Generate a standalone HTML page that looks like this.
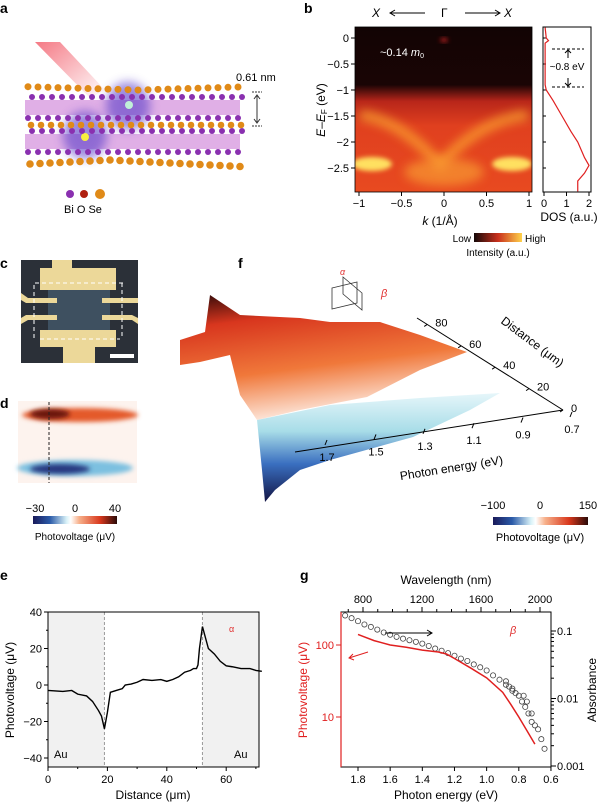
<!DOCTYPE html>
<html><head><meta charset="utf-8"><style>
body{margin:0;background:#fff;width:600px;height:805px;overflow:hidden;font-family:"Liberation Sans",sans-serif}
svg{position:absolute;left:0;top:0}
text{font-family:"Liberation Sans",sans-serif}
</style></head><body>
<svg id="s" width="600" height="805" viewBox="0 0 600 805">
<defs>
<linearGradient id="arpes" x1="0" y1="0" x2="0" y2="1">
<stop offset="0" stop-color="#120404"/><stop offset="0.35" stop-color="#1a0505"/><stop offset="0.45" stop-color="#b8261a"/><stop offset="0.6" stop-color="#e0401f"/><stop offset="1" stop-color="#e84a20"/></linearGradient>
<linearGradient id="cbB" x1="0" x2="1"><stop offset="0" stop-color="#140808"/><stop offset="0.5" stop-color="#c9301c"/><stop offset="1" stop-color="#ffd24a"/></linearGradient>
<linearGradient id="cbD" x1="0" x2="1"><stop offset="0" stop-color="#1a1a5a"/><stop offset="0.2" stop-color="#2a5aa8"/><stop offset="0.4" stop-color="#d9f2f8"/><stop offset="0.45" stop-color="#fff"/><stop offset="0.55" stop-color="#f7b08a"/><stop offset="0.8" stop-color="#d8381d"/><stop offset="1" stop-color="#2a0a08"/></linearGradient>
<linearGradient id="redS" x1="0" y1="0" x2="0.3" y2="1"><stop offset="0" stop-color="#2a0808"/><stop offset="0.25" stop-color="#d8361e"/><stop offset="0.65" stop-color="#f0783a"/><stop offset="1" stop-color="#fde6da"/></linearGradient>
<linearGradient id="blueS" x1="0" y1="0" x2="0" y2="1"><stop offset="0" stop-color="#e6f6fa"/><stop offset="0.35" stop-color="#a8dde8"/><stop offset="0.65" stop-color="#3a6fc0"/><stop offset="1" stop-color="#121444"/></linearGradient>
<filter id="bl" x="-50%" y="-50%" width="200%" height="200%"><feGaussianBlur stdDeviation="5"/></filter>
<filter id="bl2" x="-50%" y="-50%" width="200%" height="200%"><feGaussianBlur stdDeviation="2.5"/></filter>
<clipPath id="cb"><rect x="355" y="27" width="177" height="165"/></clipPath>
<linearGradient id="beam" x1="0" y1="0" x2="1" y2="1"><stop offset="0" stop-color="#f04050" stop-opacity="0.7"/><stop offset="1" stop-color="#f04050" stop-opacity="0"/></linearGradient>
</defs>

<!-- panel letters -->
<g font-weight="bold" font-size="14">
<text x="0" y="13">a</text>
<text x="304" y="13">b</text>
<text x="0" y="268">c</text>
<text x="0" y="408">d</text>
<text x="238" y="268">f</text>
<text x="0" y="580">e</text>
<text x="300" y="580">g</text>
</g>

<!-- panel a -->
<g id="pa">
<polygon points="35,42 60,42 105,90 90,98" fill="url(#beam)"/>
<rect x="25" y="100" width="215" height="15" fill="#d89be0" opacity="0.8"/>
<rect x="25" y="134" width="215" height="15" fill="#d89be0" opacity="0.8"/>
<ellipse cx="85" cy="135" rx="22" ry="24" fill="#5a3cc8" opacity="0.6" filter="url(#bl)"/>
<ellipse cx="128" cy="106" rx="22" ry="24" fill="#5a3cc8" opacity="0.6" filter="url(#bl)"/>
<circle cx="85" cy="137" r="4" fill="#f8f040"/>
<circle cx="129" cy="105" r="4" fill="#c0f0d8"/>
<text x="236" y="81" font-size="11">0.61 nm</text>
<line x1="252" y1="92" x2="262" y2="92" stroke="#333" stroke-dasharray="2,1"/>
<line x1="252" y1="126" x2="262" y2="126" stroke="#333" stroke-dasharray="2,1"/>
<line x1="257" y1="96" x2="257" y2="122" stroke="#333"/>
<path d="M254,99 L257,95 L260,99 M254,119 L257,123 L260,119" fill="none" stroke="#333"/>
<circle cx="70" cy="194" r="4" fill="#8a30b0"/>
<circle cx="84" cy="194" r="4" fill="#b02010"/>
<circle cx="100" cy="194" r="5" fill="#e08a18"/>
<text x="64" y="213" font-size="11">Bi  O  Se</text>
</g>

<!-- panel b -->
<g>
<text x="372" y="17" font-size="12" font-style="italic">X</text>
<text x="441" y="17" font-size="12">Γ</text>
<text x="504" y="17" font-size="12" font-style="italic">X</text>
<path d="M390,13 H425 M395,10 L390,13 L395,16 M465,13 H500 M495,10 L500,13 L495,16" stroke="#000" fill="none"/>
<g clip-path="url(#cb)">
<rect x="355" y="27" width="177" height="165" fill="url(#arpes)"/>
<path d="M360,115 Q400,120 440,165 Q480,120 528,115" stroke="#ffb030" stroke-width="10" fill="none" opacity="0.7" filter="url(#bl)"/>
<ellipse cx="372" cy="164" rx="20" ry="7" fill="#ffe060" filter="url(#bl2)"/>
<ellipse cx="512" cy="164" rx="20" ry="7" fill="#ffe060" filter="url(#bl2)"/>
<ellipse cx="444" cy="172" rx="40" ry="14" fill="#f89a30" opacity="0.7" filter="url(#bl)"/>
<ellipse cx="444" cy="40" rx="4" ry="2" fill="#c02020" filter="url(#bl2)"/>
</g>
<rect x="355" y="27" width="177" height="165" fill="none" stroke="#000" stroke-width="0.8"/>
<text x="380" y="56" font-size="11" fill="#fff">~0.14 <tspan font-style="italic">m</tspan><tspan font-size="7" dy="2">0</tspan></text>
<g id="bAx"></g>
<rect x="543" y="27" width="48" height="165" fill="none" stroke="#000"/>
<g id="bDos"></g>
<path d="M552,49 H584 M552,87 H584" stroke="#000" stroke-dasharray="3,2"/>
<path d="M568,58 V50 M565,53 L568,50 L571,53 M568,78 V86 M565,83 L568,86 L571,83" stroke="#000" fill="none"/>
<text x="567" y="70" font-size="10" text-anchor="middle">~0.8 eV</text>
<text x="569" y="221" font-size="12" text-anchor="middle">DOS (a.u.)</text>
<text x="440" y="225" font-size="12" text-anchor="middle"><tspan font-style="italic">k</tspan> (1/Å)</text>
<text transform="translate(325,110) rotate(-90)" font-size="12" text-anchor="middle"><tspan font-style="italic">E</tspan>–<tspan font-style="italic">E</tspan><tspan font-size="8" dy="2">F</tspan><tspan dy="-2"> (eV)</tspan></text>
<text x="471" y="242" font-size="10" text-anchor="end">Low</text>
<rect x="474" y="233" width="48" height="9" fill="url(#cbB)"/>
<text x="525" y="242" font-size="10">High</text>
<text x="498" y="256" font-size="10" text-anchor="middle">Intensity (a.u.)</text>
</g>

<!-- panel c -->
<g>
<rect x="21" y="260" width="117" height="103" fill="#2b3038"/>
<rect x="48" y="285" width="62" height="55" fill="#3e5060"/>
<path d="M52,260 H72 V268 H116 V290 H40 V268 H52 Z" fill="#ecd899"/>
<path d="M40,330 H116 V347 H95 V363 H63 V347 H40 Z" fill="#ecd899"/>
<path d="M21,293 L28,298 H57 V303 H26 L21,300Z M21,318 L26,315 H57 V320 H28 L21,324Z M138,298 H102 V303 H138Z M138,318 L132,315 H102 V320 H132 L138,324Z" fill="#ecd899"/>
<rect x="110" y="354" width="24" height="4" fill="#fff"/>
<path d="M35,283 H125 M40,339 H120 M34,285 V340 M122,283 V338" stroke="#fff" stroke-dasharray="4,3" fill="none"/>
</g>

<!-- panel d -->
<g>
<rect x="18" y="401" width="119" height="82" fill="#fdf3ee"/>
<ellipse cx="80" cy="415" rx="58" ry="7" fill="#e45a2c" filter="url(#bl2)"/>
<ellipse cx="50" cy="414" rx="20" ry="5" fill="#6a1408" filter="url(#bl2)"/>
<ellipse cx="75" cy="468" rx="58" ry="8" fill="#7cc0e0" filter="url(#bl2)"/>
<ellipse cx="60" cy="469" rx="30" ry="5" fill="#283880" filter="url(#bl2)"/>
<line x1="49" y1="402" x2="49" y2="483" stroke="#222" stroke-dasharray="3,2"/>
<g font-size="11" text-anchor="middle"><text x="35" y="512">−30</text><text x="75" y="512">0</text><text x="115" y="512">40</text></g>
<rect x="33" y="516" width="84" height="8" fill="url(#cbD)"/>
<text x="75" y="540" font-size="10" text-anchor="middle">Photovoltage (μV)</text>
</g>

<!-- panel f -->
<g>
<polygon points="180,340 205,332 210,295 240,315 300,318 330,322 380,322 420,335 467,352 420,370 367,397 300,410 257,420 240,395 230,355 200,362 180,365" fill="url(#redS)"/>
<polygon points="257,420 330,405 420,398 500,393 470,410 413,437 330,460 300,470 275,490 265,502 262,470" fill="url(#blueS)"/>
<g stroke="#333" fill="none" stroke-width="0.8">
<path d="M332,288 L357,282 V303 L332,309Z M343,277 L362,293 L362,310 L343,294Z"/>
</g>
<text x="340" y="275" font-size="9" fill="#e03030" font-style="italic">α</text>
<text x="381" y="297" font-size="11" fill="#e03030" font-style="italic">β</text>
<line x1="417" y1="318" x2="563" y2="410" stroke="#000"/>
<line x1="295" y1="452" x2="563" y2="410" stroke="#000"/>
<g id="fAx" font-size="11"></g>
<text transform="translate(452,472) rotate(-9)" font-size="12" text-anchor="middle">Photon energy (eV)</text>
<text transform="translate(530,345) rotate(37)" font-size="12" text-anchor="middle">Distance (μm)</text>
<g font-size="11" text-anchor="middle"><text x="493" y="509">−100</text><text x="540" y="509">0</text><text x="588" y="509">150</text></g>
<rect x="493" y="517" width="95" height="8" fill="url(#cbD)"/>
<text x="540" y="541" font-size="11" text-anchor="middle">Photovoltage (μV)</text>
</g>

<!-- panel e -->
<g id="pe"></g>
<!-- panel g -->
<g id="pg"></g>
</svg>
<script>
// ---- panel e data ----
const eDist=[0,5,8,10,13,15,17,18,19,20,21,23,25,26,28,30,32,35,38,40,42,44,46,48,49,50,50.5,51,52,53,54,56,58,60,62,65,68,70,72];
const eVolt=[-3,-3.5,-3,-5,-6,-9,-14,-17,-24,-15,-4,-3,-2,0,0.5,1.5,3,2.5,3,2,3,4.5,7,8,9,9,11,20,32,26,20,17,13,10.5,10,9,9,8,7.5];
const eXTicks=[0,20,40,60];
const eYTicks=[-40,-20,0,20,40];
// ---- panel g data ----
const gEnergyPV=[1.8,1.7,1.6,1.5,1.4,1.3,1.25,1.2,1.1,1.0,0.9,0.85,0.8,0.75,0.7];
const gPV=[140,115,100,93,85,80,75,65,48,35,22,15,10,6.5,4.2];
const gEnergyAbs=[1.88,1.84,1.8,1.76,1.72,1.68,1.64,1.6,1.56,1.52,1.48,1.44,1.4,1.36,1.32,1.28,1.24,1.2,1.16,1.12,1.08,1.04,1.0,0.96,0.92,0.88,0.86,0.84,0.82,0.8,0.78,0.76,0.74,0.72,0.7,0.68,0.66,0.64,0.77,0.75,0.72,0.88,0.84];
const gAbs=[0.17,0.155,0.14,0.125,0.115,0.105,0.095,0.088,0.082,0.077,0.073,0.069,0.065,0.06,0.055,0.051,0.047,0.043,0.039,0.036,0.032,0.029,0.026,0.022,0.019,0.016,0.015,0.013,0.012,0.011,0.009,0.0075,0.006,0.0045,0.004,0.0035,0.0025,0.0018,0.011,0.009,0.006,0.018,0.014];
const gETicks=[1.8,1.6,1.4,1.2,1.0,0.8,0.6];
const gWTicks=[800,1200,1600,2000];
const gPVTicks=[10,100];
const gAbsTicks=[0.001,0.01,0.1];
const gAbsLabels=["0.001","0.01","0.1"];
// ---- panel b DOS ----
const bDosE=[0.2,0,-0.05,-0.1,-0.9,-1,-1.2,-1.5,-1.8,-2,-2.2,-2.3,-2.45,-2.6,-2.75,-2.95];
const bDosV=[0.05,0.1,0.2,0.05,0.05,0.1,0.4,0.8,1.2,1.5,1.7,1.8,2.0,1.8,1.5,1.5];
const bKTicks=[-1,-0.5,0,0.5,1];
const bETicks=[0,-0.5,-1,-1.5,-2,-2.5];
const bDosTicks=[0,1,2];
// ---- panel f ticks ----
const fDist=[0,20,40,60,80];
const fEn=[1.7,1.5,1.3,1.1,0.9,0.7];

const NS="http://www.w3.org/2000/svg";
function mk(p,t,a,txt){const e=document.createElementNS(NS,t);for(const k in a)e.setAttribute(k,a[k]);if(txt!==undefined)e.textContent=txt;p.appendChild(e);return e;}
const S=document.getElementById('s');

// panel a atoms (decorative)
const pa=document.getElementById('pa');
for(let i=0;i<22;i++){const x=28+i*10;
 [[97,'#8a30b0',3],[118,'#8a30b0',3],[131,'#8a30b0',3],[152,'#8a30b0',3]].forEach(r=>{const c=mk(pa,'circle',{cx:x+(r[0]%2)*4,cy:r[0],r:r[2],fill:r[1]});});
 mk(pa,'circle',{cx:x+3,cy:125,r:3.3,fill:'#e08a18'});
 mk(pa,'circle',{cx:x,cy:90-Math.abs(i-11)*0.3,r:3.5,fill:'#e08a18'});
 mk(pa,'circle',{cx:x+2,cy:160+Math.abs(i-8)*0.5,r:3.8,fill:'#e08a18'});
}

// panel b axes
const bAx=document.getElementById('bAx');
const kx=k=>444+k*85, ey=E=>38-E*52;
bKTicks.forEach(k=>{mk(bAx,'line',{x1:kx(k),y1:192,x2:kx(k),y2:196,stroke:'#000'});
 const t=mk(bAx,'text',{x:kx(k),y:207,'font-size':11,'text-anchor':'middle'},k===0?'0':(k<0?'−':'')+Math.abs(k));
 });
bETicks.forEach(E=>{mk(bAx,'line',{x1:351,y1:ey(E),x2:355,y2:ey(E),stroke:'#000'});
 mk(bAx,'line',{x1:543,y1:ey(E),x2:546,y2:ey(E),stroke:'#000'});
 mk(bAx,'text',{x:349,y:ey(E)+4,'font-size':11,'text-anchor':'end'},E===0?'0':'−'+Math.abs(E));});
const bD=document.getElementById('bDos');
const dx=v=>544+v*22.5;
const dl=mk(bD,'polyline',{points:bDosE.map((E,i)=>dx(bDosV[i])+','+ey(E)).join(' '),fill:'none',stroke:'#e02020','stroke-width':1.2});

bDosTicks.forEach(v=>{mk(bD,'line',{x1:dx(v),y1:192,x2:dx(v),y2:196,stroke:'#000'});mk(bD,'text',{x:dx(v),y:207,'font-size':11,'text-anchor':'middle'},v);});

// panel f axis ticks
const fAx=document.getElementById('fAx');
const dP=d=>[563-(d/80)*(563-417)*0.93,410-(d/80)*(410-318)*0.93];
fDist.forEach(d=>{const p=dP(d);mk(fAx,'line',{x1:p[0],y1:p[1],x2:p[0]-3,y2:p[1]+2,stroke:'#000'});mk(fAx,'text',{x:p[0]+8,y:p[1]+2},d);});
const eP=E=>{const f=(E-0.7)/(1.7-0.7);return[572-f*(572-327),421+f*(452-421)-(f*3)]};
fEn.forEach(E=>{const p=eP(E);mk(fAx,'line',{x1:p[0],y1:p[1]-9,x2:p[0]-2,y2:p[1]-4,stroke:'#000'});mk(fAx,'text',{x:p[0],y:p[1]+12,'text-anchor':'middle'},E.toFixed(1));});

// panel e
const pe=document.getElementById('pe');
const ex=d=>48+d*2.97, eyy=v=>612+(40-v)*1.825;
mk(pe,'rect',{x:ex(0),y:612,width:ex(19)-ex(0),height:155,fill:'#f1f1f1'});
mk(pe,'rect',{x:ex(52),y:612,width:259-ex(52),height:155,fill:'#f1f1f1'});
[19,52].forEach(d=>mk(pe,'line',{x1:ex(d),y1:612,x2:ex(d),y2:767,stroke:'#999','stroke-dasharray':'3,2'}));
mk(pe,'rect',{x:48,y:612,width:211,height:155,fill:'none',stroke:'#000'});
eXTicks.forEach(d=>{mk(pe,'line',{x1:ex(d),y1:767,x2:ex(d),y2:771,stroke:'#000'});mk(pe,'text',{x:ex(d),y:783,'font-size':11,'text-anchor':'middle'},d);});
for(let d=10;d<72;d+=20)mk(pe,'line',{x1:ex(d),y1:767,x2:ex(d),y2:769,stroke:'#000'});
eYTicks.forEach(v=>{mk(pe,'line',{x1:44,y1:eyy(v),x2:48,y2:eyy(v),stroke:'#000'});mk(pe,'text',{x:42,y:eyy(v)+4,'font-size':11,'text-anchor':'end'},v<0?'−'+(-v):v);});
for(let v=-30;v<40;v+=20)mk(pe,'line',{x1:46,y1:eyy(v),x2:48,y2:eyy(v),stroke:'#000'});
const el=mk(pe,'polyline',{points:eDist.map((d,i)=>ex(d)+','+eyy(eVolt[i])).join(' '),fill:'none',stroke:'#000','stroke-width':1.4});


mk(pe,'text',{x:54,y:758,'font-size':11},'Au');mk(pe,'text',{x:234,y:758,'font-size':11},'Au');
mk(pe,'text',{x:229,y:632,'font-size':9,fill:'#e03030'},'α');
mk(pe,'text',{x:153,y:799,'font-size':12,'text-anchor':'middle'},'Distance (μm)');
mk(pe,'text',{transform:'translate(14,690) rotate(-90)','font-size':12,'text-anchor':'middle'},'Photovoltage (μV)');

// panel g
const pg=document.getElementById('pg');
const gx=E=>358+(1.8-E)*160.8, gpy=v=>645-Math.log10(v/100)*72, gay=a=>631-Math.log10(a/0.1)*67.5, gwx=w=>363+(w-800)*0.1475;
mk(pg,'rect',{x:341,y:612,width:210,height:155,fill:'none',stroke:'#000'});
mk(pg,'line',{x1:341,y1:612,x2:341,y2:767,stroke:'#e02020','stroke-width':1.2});
gETicks.forEach(E=>{mk(pg,'line',{x1:gx(E),y1:767,x2:gx(E),y2:771,stroke:'#000'});mk(pg,'text',{x:gx(E),y:783,'font-size':11,'text-anchor':'middle'},E.toFixed(1));});
for(let w=700;w<=2050;w+=100){const x=gwx(w);if(x<341||x>551)continue;mk(pg,'line',{x1:x,y1:612,x2:x,y2:gWTicks.includes(w)?607:609,stroke:'#000'});}
gWTicks.forEach(w=>mk(pg,'text',{x:gwx(w),y:603,'font-size':11,'text-anchor':'middle'},w));
gPVTicks.forEach(v=>{mk(pg,'line',{x1:336,y1:gpy(v),x2:341,y2:gpy(v),stroke:'#e02020'});mk(pg,'text',{x:334,y:gpy(v)+4,'font-size':11,'text-anchor':'end',fill:'#e02020'},v);});
gAbsTicks.forEach((a,i)=>{mk(pg,'line',{x1:551,y1:gay(a),x2:556,y2:gay(a),stroke:'#000'});mk(pg,'text',{x:557,y:gay(a)+4,'font-size':11},gAbsLabels[i]);
 for(let m=2;m<10;m++){const y=gay(a*m);if(y>612)mk(pg,'line',{x1:551,y1:y,x2:554,y2:y,stroke:'#000'});}});
gEnergyAbs.forEach((E,i)=>{const c=mk(pg,'circle',{cx:gx(E),cy:gay(gAbs[i]),r:2.6,fill:'none',stroke:'#444','stroke-width':0.8});
 });
const gl=mk(pg,'polyline',{points:gEnergyPV.map((E,i)=>gx(E)+','+gpy(gPV[i])).join(' '),fill:'none',stroke:'#e02020','stroke-width':1.5});


mk(pg,'path',{d:'M385,633 H432 M427,630 L432,633 L427,636',stroke:'#000',fill:'none'});
mk(pg,'path',{d:'M368,652 L349,658 M353,654 L349,658 L354,660',stroke:'#e02020',fill:'none'});
mk(pg,'text',{x:510,y:634,'font-size':11,fill:'#e03030','font-style':'italic'},'β');
mk(pg,'text',{x:446,y:584,'font-size':12,'text-anchor':'middle'},'Wavelength (nm)');
mk(pg,'text',{x:446,y:799,'font-size':12,'text-anchor':'middle'},'Photon energy (eV)');
mk(pg,'text',{transform:'translate(307,690) rotate(-90)','font-size':12,'text-anchor':'middle',fill:'#e02020'},'Photovoltage (μV)');
mk(pg,'text',{transform:'translate(596,690) rotate(-90)','font-size':12,'text-anchor':'middle'},'Absorbance');
</script>
</body></html>
